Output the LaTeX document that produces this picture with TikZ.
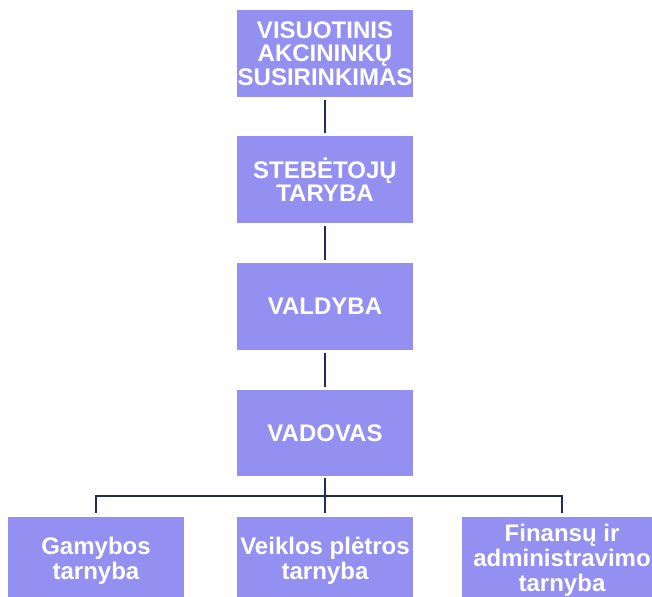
\documentclass[tikz,border=0pt]{standalone}
\usepackage{fontspec}
\setmainfont{Liberation Sans}
\definecolor{boxfill}{RGB}{148,144,242}
\definecolor{linecol}{RGB}{31,45,88}
\begin{document}
\begin{tikzpicture}[x=1pt,y=-1pt,
  orgbox/.style={rectangle, fill=boxfill, draw=none, text=white, align=center,
    font=\fontsize{24}{23.5}\selectfont\bfseries, minimum width=176pt, minimum height=87pt, inner sep=0pt},
  conn/.style={draw=linecol, line width=2.8pt}]
\path[use as bounding box, clip] (0,0) rectangle (652,596);
\node[orgbox] (vas) at (325,53.5) {VISUOTINIS\\AKCININKŲ\\SUSIRINKIMAS};
\node[orgbox] (st) at (325,179.5) {STEBĖTOJŲ\\TARYBA};
\node[orgbox] (va) at (325,306.5) {VALDYBA};
\node[orgbox, minimum height=86pt] (vad) at (325,433) {VADOVAS};
\node[orgbox, font=\fontsize{24}{25}\selectfont\bfseries] (gam) at (96,560.5) {Gamybos\\tarnyba};
\node[orgbox, font=\fontsize{24}{25}\selectfont\bfseries] (vei) at (325,560.5) {Veiklos plėtros\\tarnyba};
\node[orgbox, font=\fontsize{24}{25}\selectfont\bfseries, minimum width=200pt] (fin) at (562,560.5) {Finansų ir\\administravimo\\tarnyba};
\coordinate (bus) at (325,496);
\draw[conn, shorten <=2.5pt, shorten >=2.5pt] (vas) -- (st);
\draw[conn, shorten <=2.5pt, shorten >=2.5pt] (st) -- (va);
\draw[conn, shorten <=2.5pt, shorten >=2.5pt] (va) -- (vad);
\draw[conn, shorten <=2pt] (vad.south) -- (bus);
\draw[conn, shorten >=3.5pt] (bus) -- (vei.north);
\draw[conn, shorten <=3.5pt, shorten >=3.5pt] (gam.north) -- (gam.north |- bus) -- (fin.north |- bus) -- (fin.north);
\end{tikzpicture}
\end{document}
